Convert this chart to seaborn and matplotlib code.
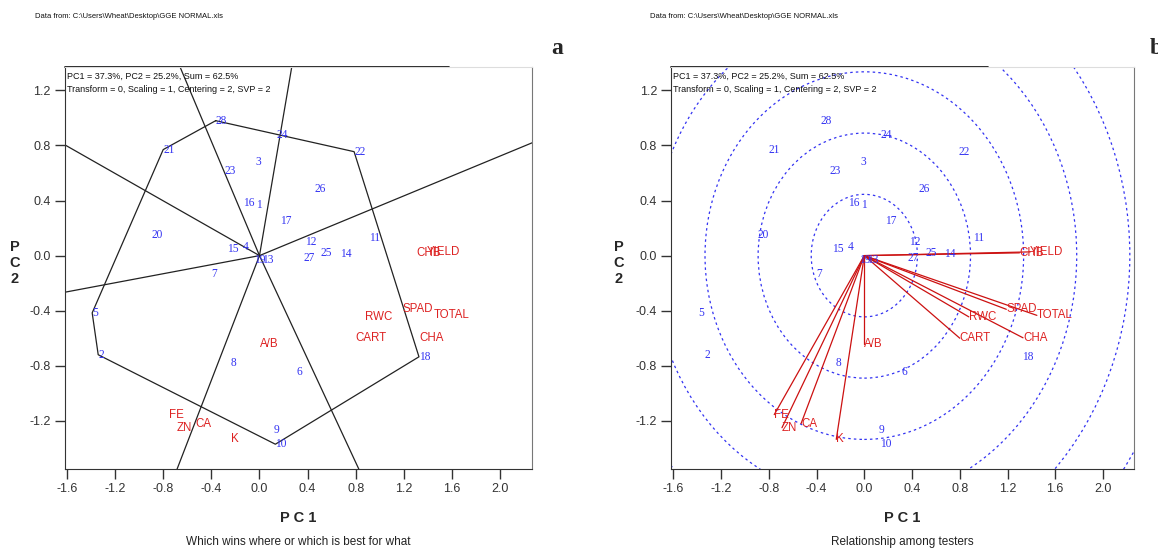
import numpy as np
import pandas as pd
import matplotlib
matplotlib.use('Agg')
import matplotlib.pyplot as plt
import seaborn as sns
from matplotlib.patches import Circle

sns.set_style("ticks")
plt.rcParams['font.family'] = ['Liberation Sans', 'DejaVu Sans']

# genotype scores (PC1, PC2)
gen_names = [str(i) for i in range(1, 29)]
gen_pc1 = [-0.03, -1.34, -0.035, -0.14, -1.39, 0.31, -0.40, -0.24, 0.12, 0.132,
           0.908, 0.378, 0.02, 0.668, -0.267, -0.135, 0.174, 1.325, -0.047, -0.897,
           -0.80, 0.786, -0.29, 0.138, 0.51, 0.455, 0.364, -0.364]
gen_pc2 = [0.37, -0.72, 0.68, 0.065, -0.416, -0.845, -0.13, -0.78, -1.27, -1.37,
           0.125, 0.10, -0.035, 0.015, 0.045, 0.385, 0.255, -0.735, -0.03, 0.15,
           0.77, 0.755, 0.615, 0.877, 0.022, 0.485, -0.02, 0.98]

# tester (trait) scores
trait_names = ["FE", "ZN", "CA", "K", "A/B", "CART", "RWC", "CHA", "SPAD", "TOTAL", "CHB", "YIELD"]
trait_pc1 = [-0.755, -0.69, -0.53, -0.235, 0.0, 0.80, 0.876, 1.33, 1.19, 1.446, 1.30, 1.39]
trait_pc2 = [-1.155, -1.25, -1.22, -1.335, -0.645, -0.60, -0.445, -0.597, -0.39, -0.434, 0.02, 0.027]

# polygon vertices (which-won-where)
hull_order = ["28", "22", "18", "10", "2", "5", "21"]
circle_radii = [0.445, 0.89, 1.335, 1.78, 2.225, 2.67]

x_ticks = [-1.6, -1.2, -0.8, -0.4, 0.0, 0.4, 0.8, 1.2, 1.6, 2.0]
y_ticks = [-1.2, -0.8, -0.4, 0.0, 0.4, 0.8, 1.2]

header1 = "PC1 = 37.3%, PC2 = 25.2%, Sum = 62.5%"
header2 = "Transform = 0, Scaling = 1, Centering = 2, SVP = 2"
data_from = "Data from: C:\\Users\\Wheat\\Desktop\\GGE NORMAL.xls"

gen = pd.DataFrame({"name": gen_names, "PC1": gen_pc1, "PC2": gen_pc2})
trt = pd.DataFrame({"name": trait_names, "PC1": trait_pc1, "PC2": trait_pc2})

BLUE = "#3333f2"
RED = "#dd2222"
W, H = 1158, 550

fig = plt.figure(figsize=(W / 100, H / 100), dpi=100)
ax1 = fig.add_axes([64.5 / W, 81 / H, 467 / W, 402 / H])
ax2 = fig.add_axes([671 / W, 81 / H, 463 / W, 402 / H])


def setup(ax, top_frac):
    ax.set_xlim(-1.62, 2.26)
    ax.set_ylim(-1.55, 1.37)
    ax.set_xticks(x_ticks)
    ax.set_yticks(y_ticks)
    ax.set_xticklabels([f"{t:.1f}" for t in x_ticks])
    ax.set_yticklabels([f"{t:.1f}" for t in y_ticks])
    ax.tick_params(direction="out", length=7, width=1, labelsize=9,
                   colors="#333333", pad=3)
    for s in ["left", "bottom"]:
        ax.spines[s].set_color("#333333")
    ax.spines["right"].set_color("#777777")
    ax.spines["top"].set_color("#dddddd")
    ax.plot([0, top_frac], [1, 1], transform=ax.transAxes, color="black",
            lw=1.2, clip_on=False)
    ax.text(0.005, 0.978, header1, transform=ax.transAxes, fontsize=6.5,
            ha="left", va="center", color="#111111")
    ax.text(0.005, 0.943, header2, transform=ax.transAxes, fontsize=6.5,
            ha="left", va="center", color="#111111")


def labels(ax):
    for _, r in gen.iterrows():
        ax.text(r.PC1, r.PC2, r["name"], ha="left", va="center", color=BLUE,
                fontsize=8.3, family=["Liberation Serif", "DejaVu Serif"])
    for _, r in trt.iterrows():
        ax.text(r.PC1, r.PC2, r["name"], ha="left", va="center", color=RED,
                fontsize=8.3)


# --- a: which wins where ---
setup(ax1, 0.823)
hull = gen.set_index("name").loc[hull_order + [hull_order[0]]].reset_index()
sns.lineplot(data=hull, x="PC1", y="PC2", sort=False, estimator=None,
             color="#222222", lw=0.9, ax=ax1)
pts = hull[["PC1", "PC2"]].to_numpy()
for a, b in zip(pts[:-1], pts[1:]):
    d = b - a
    n = np.array([d[1], -d[0]])
    if np.dot(n, (a + b) / 2) < 0:
        n = -n
    n = n / np.linalg.norm(n) * 10
    ax1.plot([0, n[0]], [0, n[1]], color="#222222", lw=0.9)
labels(ax1)
ax1.set_xlim(-1.62, 2.26)
ax1.set_ylim(-1.55, 1.37)
ax1.set_xlabel("")
ax1.set_ylabel("")

# --- b: relationship among testers ---
setup(ax2, 0.684)
for r in circle_radii:
    ax2.add_patch(Circle((0, 0), r, fill=False, ec=BLUE, lw=0.9,
                         ls=(0, (2, 2.5))))
for _, r in trt.iterrows():
    ax2.plot([0, r.PC1], [0, r.PC2], color="#cc1111", lw=0.9)
labels(ax2)

# figure texts
for x0, cx, px, sub, letter, lx in [(35, 298, 15, "Which wins where or which is best for what", "a", 551),
                                    (650, 902, 619, "Relationship among testers", "b", 1150)]:
    fig.text(x0 / W, 1 - 17 / H, data_from, fontsize=5.5, ha="left", va="center", color="#111111")
    fig.text(cx / W, 1 - 518 / H, "P C 1", fontsize=10.5, weight="bold", ha="center", va="center")
    fig.text(cx / W, 1 - 542 / H, sub, fontsize=8.5, ha="center", va="center", color="#222222")
    fig.text(px / W, 1 - 263 / H, "P\nC\n2", fontsize=10.5, weight="bold", ha="center",
             va="center", linespacing=1.15)
    fig.text(lx / W, 1 - 48 / H, letter, fontsize=17, weight="bold", ha="left", va="center",
             family=["Liberation Serif", "DejaVu Serif"])

fig.savefig("out.png", dpi=100)
